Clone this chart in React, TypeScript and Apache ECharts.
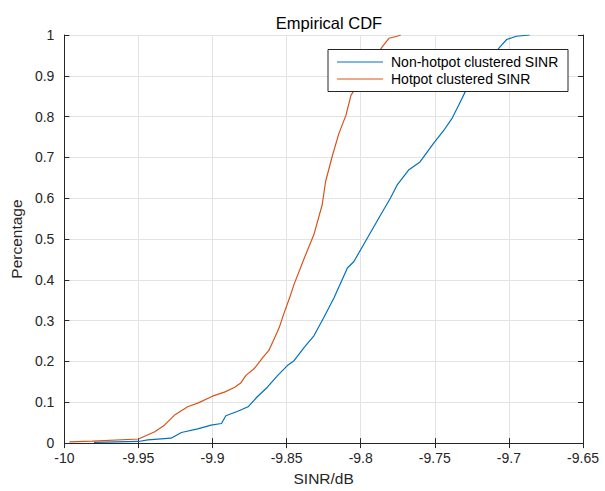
import React, { useEffect, useRef } from "react";
import * as echarts from "echarts";

const xTicks = [-10, -9.95, -9.9, -9.85, -9.8, -9.75, -9.7, -9.65];

const nonHotX = [-9.98, -9.95, -9.9437, -9.928, -9.921, -9.91, -9.901, -9.894, -9.891, -9.883, -9.876, -9.87, -9.863, -9.856, -9.8495, -9.845, -9.838, -9.8316, -9.825, -9.818, -9.809, -9.8046, -9.7956, -9.7866, -9.78, -9.7755, -9.7677, -9.76, -9.751, -9.744, -9.7385, -9.734, -9.7285, -9.72, -9.712, -9.706, -9.7015, -9.695, -9.686];
const nonHotY = [0.002, 0.004, 0.008, 0.012, 0.026, 0.035, 0.044, 0.048, 0.067, 0.078, 0.089, 0.113, 0.137, 0.166, 0.19, 0.202, 0.235, 0.263, 0.307, 0.356, 0.429, 0.445, 0.502, 0.559, 0.6, 0.632, 0.669, 0.689, 0.734, 0.766, 0.795, 0.827, 0.868, 0.91, 0.945, 0.971, 0.989, 0.997, 1.0];

const hotX = [-9.9966, -9.981, -9.95, -9.939, -9.9325, -9.9258, -9.9168, -9.91, -9.9, -9.892, -9.885, -9.881, -9.8775, -9.872, -9.866, -9.862, -9.858, -9.855, -9.852, -9.848, -9.845, -9.838, -9.8316, -9.826, -9.8237, -9.819, -9.8147, -9.81, -9.8066, -9.8, -9.793, -9.7855, -9.781, -9.7755, -9.773];
const hotY = [0.003, 0.005, 0.01, 0.028, 0.044, 0.068, 0.089, 0.098, 0.115, 0.125, 0.137, 0.147, 0.166, 0.182, 0.21, 0.227, 0.259, 0.283, 0.316, 0.356, 0.389, 0.454, 0.511, 0.584, 0.641, 0.706, 0.759, 0.803, 0.852, 0.89, 0.93, 0.971, 0.992, 0.997, 1.0];

const seriesNames = ["Non-hotpot clustered SINR", "Hotpot clustered SINR"];
const colors = ["#0072BD", "#D95319"];

const FONT = "Liberation Sans, Arial, sans-serif";
const AX = "#262626";

export default function App() {
  const ref = useRef<HTMLDivElement>(null);
  useEffect(() => {
    const chart = echarts.init(ref.current!, null, { renderer: "svg" });
    const pairs = (xs: number[], ys: number[]) => xs.map((x, i) => [x, ys[i]]);
    const axisCommon = {
      axisLine: { show: true, lineStyle: { color: AX, width: 1 } },
      axisTick: { show: true, inside: true, length: 5, lineStyle: { color: AX } },
    };
    const legendItems: any[] = [];
    seriesNames.forEach((n, i) => {
      const y = 62 + i * 17;
      legendItems.push({
        type: "line",
        shape: { x1: 337, y1: y, x2: 383, y2: y },
        style: { stroke: colors[i], lineWidth: 1.2 },
        z: 101,
      });
      legendItems.push({
        type: "text",
        x: 391,
        y: y,
        style: { text: n, font: `14px ${FONT}`, fill: "#000", verticalAlign: "middle" },
        z: 101,
      });
    });
    chart.setOption({
      animation: false,
      backgroundColor: "#ffffff",
      title: {
        text: "Empirical CDF",
        left: 324,
        textAlign: "center",
        top: 9,
        textStyle: { fontFamily: FONT, fontSize: 16.5, fontWeight: "normal", color: "#000" },
      },
      graphic: [
        {
          type: "rect",
          shape: { x: 328, y: 49.5, width: 240, height: 42 },
          style: { fill: "#ffffff", stroke: AX, lineWidth: 1 },
          z: 100,
        },
        ...legendItems,
      ],
      grid: { left: 63, right: 22, top: 35, bottom: 45, show: false },
      xAxis: [
        {
          type: "value",
          min: -10,
          max: -9.65,
          interval: 0.05,
          name: "SINR/dB",
          nameLocation: "middle",
          nameGap: 26,
          nameTextStyle: { fontFamily: FONT, fontSize: 15.5, color: AX },
          ...axisCommon,
          axisLabel: {
            fontFamily: FONT,
            fontSize: 14,
            color: AX,
            margin: 8,
            formatter: (v: number) => {
              const t = xTicks.find((k) => Math.abs(k - v) < 1e-6);
              return t === undefined ? "" : String(t);
            },
          },
          splitLine: { show: true, lineStyle: { color: "#e3e3e3", width: 1 } },
        },
        {
          type: "value",
          position: "top",
          min: -10,
          max: -9.65,
          interval: 0.05,
          ...axisCommon,
          axisLabel: { show: false },
          splitLine: { show: false },
        },
      ],
      yAxis: [
        {
          type: "value",
          min: 0,
          max: 1,
          interval: 0.1,
          name: "Percentage",
          nameLocation: "middle",
          nameGap: 37,
          nameTextStyle: { fontFamily: FONT, fontSize: 15.5, color: AX },
          ...axisCommon,
          axisLabel: {
            fontFamily: FONT,
            fontSize: 14,
            color: AX,
            margin: 10,
            formatter: (v: number) => String(Math.round(v * 10) / 10),
          },
          splitLine: { show: true, lineStyle: { color: "#e3e3e3", width: 1 } },
        },
        {
          type: "value",
          position: "right",
          min: 0,
          max: 1,
          interval: 0.1,
          ...axisCommon,
          axisLabel: { show: false },
          splitLine: { show: false },
        },
      ],
      series: [
        {
          name: seriesNames[0],
          type: "line",
          data: pairs(nonHotX, nonHotY),
          showSymbol: false,
          lineStyle: { color: colors[0], width: 1.2 },
          itemStyle: { color: colors[0] },
          z: 2,
        },
        {
          name: seriesNames[1],
          type: "line",
          data: pairs(hotX, hotY),
          showSymbol: false,
          lineStyle: { color: colors[1], width: 1.2 },
          itemStyle: { color: colors[1] },
          z: 2,
        },
      ],
    });
    return () => chart.dispose();
  }, []);
  return <div ref={ref} style={{ width: 605, height: 491, position: "absolute", left: 0, top: 0 }} />;
}
